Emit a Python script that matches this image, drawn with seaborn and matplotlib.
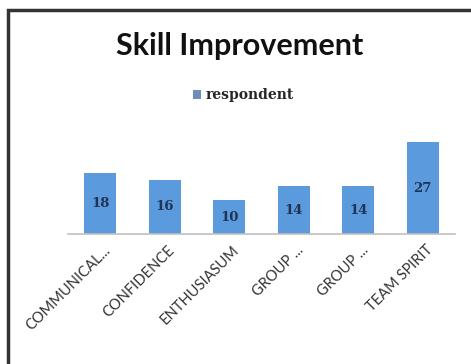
import matplotlib
matplotlib.use("Agg")
import matplotlib.pyplot as plt
import seaborn as sns
import pandas as pd
from matplotlib.patches import Rectangle, Patch

categories = ["COMMUNICAL...", "CONFIDENCE", "ENTHUSIASUM", "GROUP ...", "GROUP ...", "TEAM SPIRIT"]
keys = ["c1", "c2", "c3", "c4", "c5", "c6"]
values = [18, 16, 10, 14, 14, 27]
series_name = "respondent"

sns.set_theme(style="white")
plt.rcParams['font.family'] = ['Lato', 'DejaVu Sans']

df = pd.DataFrame({"key": keys, "value": values})

fig = plt.figure(figsize=(4.71, 3.64), dpi=100)
fig.patch.set_facecolor("white")
ax = fig.add_axes([68/471, 1-234/364, (455-68)/471, 102/364])

bar_color = "#5B9BDD"
sns.barplot(data=df, x="key", y="value", color=bar_color, width=0.5, ax=ax,
            saturation=1, edgecolor="none")
ax.set_ylim(0, 30)
ax.set_xlim(-0.5, 5.5)
ax.set_xlabel("")
ax.set_ylabel("")
ax.set_yticks([])
for s in ["top", "right", "left"]:
    ax.spines[s].set_visible(False)
ax.spines["bottom"].set_color("#C0C0C0")
ax.spines["bottom"].set_linewidth(1.2)
ax.set_facecolor("white")

ax.set_xticks(range(len(categories)))
ax.set_xticklabels(categories, rotation=45, ha="right", va="center", rotation_mode="anchor",
                   fontsize=10.5, color="#333333")
ax.tick_params(axis="x", length=0, pad=10)
for lbl in ax.get_xticklabels():
    lbl.set_transform(lbl.get_transform() + matplotlib.transforms.ScaledTranslation(8/100, 0, fig.dpi_scale_trans))

for i, v in enumerate(values):
    ax.text(i, v/2, str(v), ha="center", va="center", fontsize=9.5,
            fontweight="bold", color="#1F3355", family="DejaVu Serif")

fig.text(240/471, 1-46/364, "Skill Improvement", ha="center", va="center",
         fontsize=22, fontweight="bold", color="#111111")

fig.legend(handles=[Patch(facecolor="#6E8DB8", edgecolor="none", label=series_name)],
           loc="center", bbox_to_anchor=(243/471, 1-95/364), frameon=False,
           handlelength=0.6, handleheight=0.6, handletextpad=0.3,
           prop={"family": "DejaVu Serif", "weight": "bold", "size": 10})

fig.patches.append(Rectangle((8/471, -0.1), 1.1, 1-10/364 + 0.1, transform=fig.transFigure,
                             fill=False, edgecolor="#333333", linewidth=2.5, figure=fig))

fig.savefig("out.png", dpi=100, facecolor="white")
